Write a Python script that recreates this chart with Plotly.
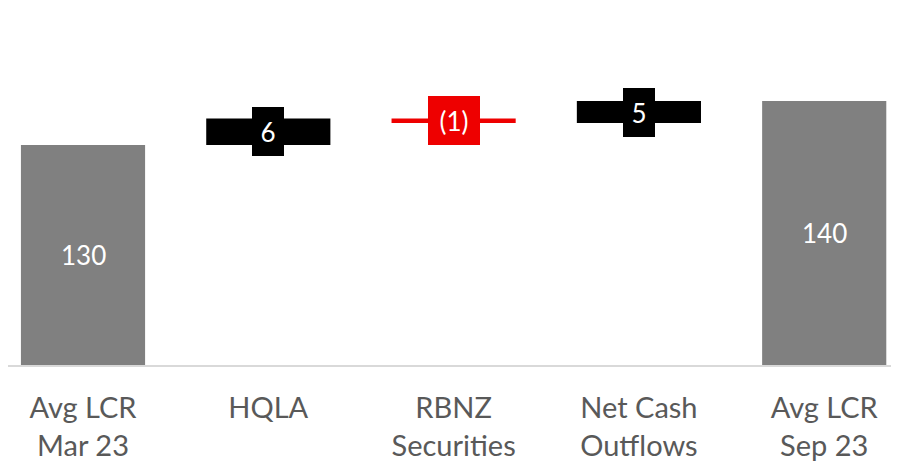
import plotly.graph_objects as go

categories = ["Avg LCR<br>Mar 23", "HQLA", "RBNZ<br>Securities", "Net Cash<br>Outflows", "Avg LCR<br>Sep 23"]
values = [130, 6, -1, 5, 140]
measures = ["absolute", "relative", "relative", "relative", "total"]
labels = ["130", "6", "(1)", "5", "140"]

Y_MIN, Y_MAX = 80, 161.14
GREY = "#808080"
BLACK = "#000000"
RED = "#ee0000"

fig = go.Figure(go.Waterfall(
    x=categories,
    y=values,
    measure=measures,
    width=0.67,
    increasing=dict(marker=dict(color=BLACK)),
    decreasing=dict(marker=dict(color=RED)),
    totals=dict(marker=dict(color=GREY)),
    connector=dict(visible=False),
    hoverinfo="skip",
))

running = 0
annotations = []
for cat, m, v, lab in zip(categories, measures, values, labels):
    if m in ("absolute", "total"):
        running = v
        annotations.append(dict(
            x=cat, y=(Y_MIN + v) / 2, text=lab, showarrow=False,
            font=dict(family="Lato", size=26, color="white"),
        ))
    else:
        start = running
        running += v
        mid = (start + running) / 2
        w = 52 if v < 0 else 32
        annotations.append(dict(
            x=cat, y=mid, text=lab, showarrow=False,
            font=dict(family="Lato", size=26, color="white"),
            bgcolor=RED if v < 0 else BLACK,
            width=w, height=49, borderpad=0, borderwidth=0,
        ))

fig.update_layout(
    width=891, height=456,
    margin=dict(l=0, r=0, t=0, b=99),
    paper_bgcolor="white", plot_bgcolor="white",
    showlegend=False,
    annotations=annotations,
    xaxis=dict(
        range=[-0.4048, 4.4036], automargin=False,
        showgrid=False, zeroline=False,
        showline=True, linecolor="#d9d9d9", linewidth=2,
        ticks="", ticklabelstandoff=16,
        tickfont=dict(family="Lato", size=29, color="#595959"),
    ),
    yaxis=dict(
        range=[Y_MIN, Y_MAX], visible=False, showgrid=False, zeroline=False,
        automargin=False,
    ),
)

fig.write_html("out.html")
